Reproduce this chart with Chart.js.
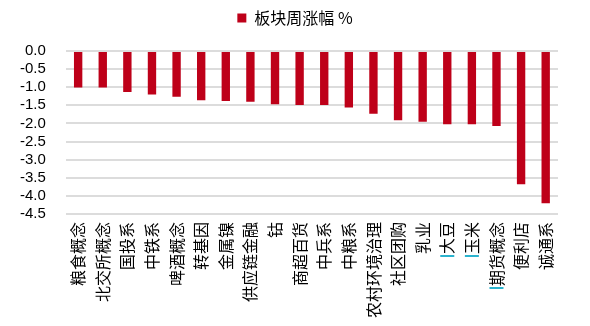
<!DOCTYPE html>
<html>
<head>
<meta charset="utf-8">
<script src="https://cdn.jsdelivr.net/npm/chart.js@4.4.1/dist/chart.umd.min.js"></script>
<style>
    html, body { margin: 0; padding: 0; background: #fff; }
    #wrap { width: 590px; height: 326px; }
</style>
</head>
<body>
<div id="wrap"><canvas id="sector-chart" width="590" height="326"></canvas></div>
<script>
// Sector weekly change (%)
const categories = [
    '粮食概念', '北交所概念', '国投系', '中铁系', '啤酒概念',
    '转基因', '金属镍', '供应链金融', '钴', '商超百货',
    '中兵系', '中粮系', '农村环境治理', '社区团购', '乳业',
    '大豆', '玉米', '期货概念', '便利店', '诚通系'
];
const weeklyChange = [
    -1.01, -1.01, -1.13, -1.20, -1.26,
    -1.36, -1.38, -1.40, -1.47, -1.49,
    -1.49, -1.56, -1.73, -1.91, -1.95,
    -2.02, -2.02, -2.07, -3.68, -4.20
];
const seriesName = '板块周涨幅 %';
const yMin = -4.5;
const yMax = 0;
const yStep = 0.5;
// labels carrying the little cyan marker in the source picture
const flaggedLabels = ['大豆', '玉米', '期货概念'];

const labelFont = { family: "'Noto Sans CJK SC', 'Noto Sans', sans-serif", size: 16 };
const labelPadding = 8;

// draws the short cyan underline below the first character of flagged labels
const flagPlugin = {
    id: 'flagMarks',
    afterDraw(chart) {
        const xScale = chart.scales.x;
        const ctx = chart.ctx;
        ctx.save();
        ctx.font = labelFont.size + 'px ' + labelFont.family;
        ctx.strokeStyle = '#2BB3CE';
        ctx.lineWidth = 2;
        categories.forEach((label, i) => {
            if (!flaggedLabels.includes(label)) return;
            const px = xScale.getPixelForValue(i);
            const w = ctx.measureText(label).width;
            const py = xScale.top + labelPadding + w + 2;
            ctx.beginPath();
            ctx.moveTo(px - 7, py);
            ctx.lineTo(px + 7, py);
            ctx.stroke();
        });
        ctx.restore();
    }
};

// extra room under the legend
const legendGap = {
    id: 'legendGap',
    beforeInit(chart) {
        const fit = chart.legend.fit;
        chart.legend.fit = function() {
            fit.bind(chart.legend)();
            this.height += 15;
        };
    }
};

const ctx = document.getElementById('sector-chart').getContext('2d');
new Chart(ctx, {
    type: 'bar',
    data: {
        labels: categories,
        datasets: [{
            label: seriesName,
            data: weeklyChange,
            backgroundColor: '#BE0019',
            barPercentage: 0.34,
            categoryPercentage: 1.0
        }]
    },
    options: {
        responsive: false,
        animation: false,
        layout: { padding: { top: 0, right: 0, bottom: 0, left: 0 } },
        scales: {
            x: {
                grid: { display: false, drawTicks: false },
                border: { display: false },
                ticks: {
                    color: '#000',
                    font: labelFont,
                    padding: labelPadding,
                    maxRotation: 90,
                    minRotation: 90,
                    autoSkip: false
                }
            },
            y: {
                min: yMin,
                max: yMax,
                grid: { color: '#dcdcdc', lineWidth: 2, drawTicks: false },
                border: { display: false },
                ticks: {
                    stepSize: yStep,
                    autoSkip: false,
                    color: '#000',
                    padding: 20,
                    font: { family: "'Liberation Sans', Arial, sans-serif", size: 15 },
                    callback: v => v.toFixed(1)
                }
            },
            // empty right axis, only keeps the right margin
            yRight: {
                position: 'right',
                min: yMin,
                max: yMax,
                grid: { display: false, drawTicks: false },
                border: { display: false },
                ticks: { display: false },
                afterFit(scale) { scale.width = 32; }
            }
        },
        plugins: {
            legend: {
                display: true,
                position: 'top',
                labels: {
                    color: '#000',
                    boxWidth: 9,
                    boxHeight: 9,
                    padding: 10,
                    font: { family: "'Noto Sans CJK SC', sans-serif", size: 16 }
                }
            },
            tooltip: { enabled: false }
        }
    },
    plugins: [flagPlugin, legendGap]
});
</script>
</body>
</html>
